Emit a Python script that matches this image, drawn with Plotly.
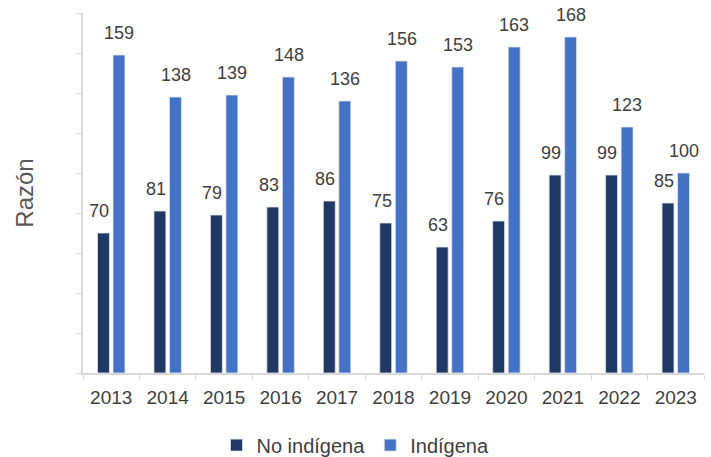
import plotly.graph_objects as go

years = ["2013", "2014", "2015", "2016", "2017", "2018", "2019", "2020", "2021", "2022", "2023"]
no_indigena = [70, 81, 79, 83, 86, 75, 63, 76, 99, 99, 85]
indigena = [159, 138, 139, 148, 136, 156, 153, 163, 168, 123, 100]

DARK = "#203864"
BLUE = "#4472C4"
TXT = "#404040"
FONT = "Liberation Sans, Arial, sans-serif"

fig = go.Figure()
fig.add_trace(go.Bar(x=years, y=no_indigena, name="No indígena",
                     marker=dict(color=DARK, line=dict(color="#dfe6f2", width=0.8))))
fig.add_trace(go.Bar(x=years, y=indigena, name="Indígena",
                     marker=dict(color=BLUE, line=dict(color="#dfe6f2", width=0.8))))

annotations = []
for i, v in enumerate(no_indigena):
    annotations.append(dict(x=i, y=v, xref="x", yref="y", text=str(v), showarrow=False,
                            xshift=-12, yshift=22, yanchor="middle",
                            font=dict(size=18, color=TXT, family=FONT)))
for i, v in enumerate(indigena):
    annotations.append(dict(x=i, y=v, xref="x", yref="y", text=str(v), showarrow=False,
                            xshift=8, yshift=22, yanchor="middle",
                            font=dict(size=18, color=TXT, family=FONT)))

fig.update_layout(
    width=711, height=457,
    margin=dict(l=83, r=7, t=13, b=84, autoexpand=False),
    paper_bgcolor="white", plot_bgcolor="white",
    barmode="group", bargap=0.45, bargroupgap=0.23,
    font=dict(family=FONT, color=TXT, size=18),
    showlegend=True,
    legend=dict(orientation="h", x=0.5, xanchor="center", xref="container",
                y=0.026, yanchor="middle", yref="container",
                font=dict(size=20, color=TXT, family=FONT),
                itemwidth=30, traceorder="normal"),
    annotations=annotations,
)
fig.update_xaxes(
    type="category", categoryorder="array", categoryarray=years,
    range=[-0.5, len(years) - 0.5], automargin=False,
    showline=True, linecolor="#d9d9d9", linewidth=1.5,
    ticks="outside", tickson="boundaries", ticklen=5, tickcolor="#d9d9d9",
    ticklabelstandoff=6,
    tickfont=dict(size=19, color=TXT, family=FONT), showgrid=False,
)
fig.update_yaxes(
    range=[0, 180], dtick=20, showticklabels=False, showgrid=False, zeroline=False,
    showline=True, linecolor="#d9d9d9", linewidth=1.5, automargin=False,
    ticks="outside", ticklen=5, tickcolor="#d9d9d9",
    title=dict(text="Razón", font=dict(size=24, color="#595959", family=FONT), standoff=36),
)

fig.write_html("out.html", config={"displayModeBar": False},
               post_script="document.body.style.margin='0';document.body.style.overflow='hidden';")
